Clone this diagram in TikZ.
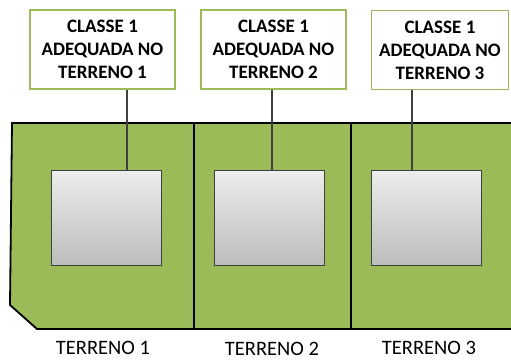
\documentclass[tikz,border=0pt]{standalone}
\usepackage{fontspec}
\setmainfont{Carlito}
\definecolor{olive}{HTML}{9BBB59}
\definecolor{conn}{HTML}{404040}
\begin{document}
\begin{tikzpicture}[x=1pt,y=-1pt,
  topbox/.style={draw=olive,line width=1.6pt,fill=white,minimum width=145pt,minimum height=79pt,inner sep=0pt,align=center,font=\bfseries\fontsize{19}{23}\selectfont},
  greybox/.style={draw=conn,line width=0.8pt,top color=black!7,bottom color=black!26,minimum width=110pt,minimum height=95pt,inner sep=0pt},
  lbl/.style={font=\fontsize{20.5}{24}\selectfont,inner sep=0pt,anchor=base},
  link/.style={draw=conn,line width=2pt}]
\useasboundingbox (0,0) rectangle (511,359);
\clip (0,0) rectangle (511,359);
% green terrain
\draw[fill=olive,line width=1.8pt] (12,123) -- (514,123) -- (514,329) -- (37,329) -- (10,305) -- cycle;
\draw[line width=1.8pt] (194,123) -- (194,329);
\draw[line width=1.8pt] (351,123) -- (351,329);
% grey boxes
\node[greybox] (g1) at (106,217.5) {};
\node[greybox] (g2) at (269.5,217.5) {};
\node[greybox] (g3) at (426,217.5) {};
% top boxes
\node[topbox] (t1) at (102.5,49.5) {CLASSE 1\\ADEQUADA NO\\TERRENO 1};
\node[topbox] (t2) at (273.5,49.5) {CLASSE 1\\ADEQUADA NO\\TERRENO 2};
\node[topbox,minimum width=137pt] (t3) at (440,50) {CLASSE 1\\ADEQUADA NO\\TERRENO 3};
% connectors
\draw[link] (t1.south -| 127,0) -- (g1.north -| 127,0);
\draw[link] (t2.south -| 272,0) -- (g2.north -| 272,0);
\draw[link] (t3.south -| 412,0) -- (g3.north -| 412,0);
% labels
\node[lbl] (l1) at (103,354) {TERRENO 1};
\node[lbl] (l2) at (272,355) {TERRENO 2};
\node[lbl] (l3) at (429,354) {TERRENO 3};
\end{tikzpicture}
\end{document}
